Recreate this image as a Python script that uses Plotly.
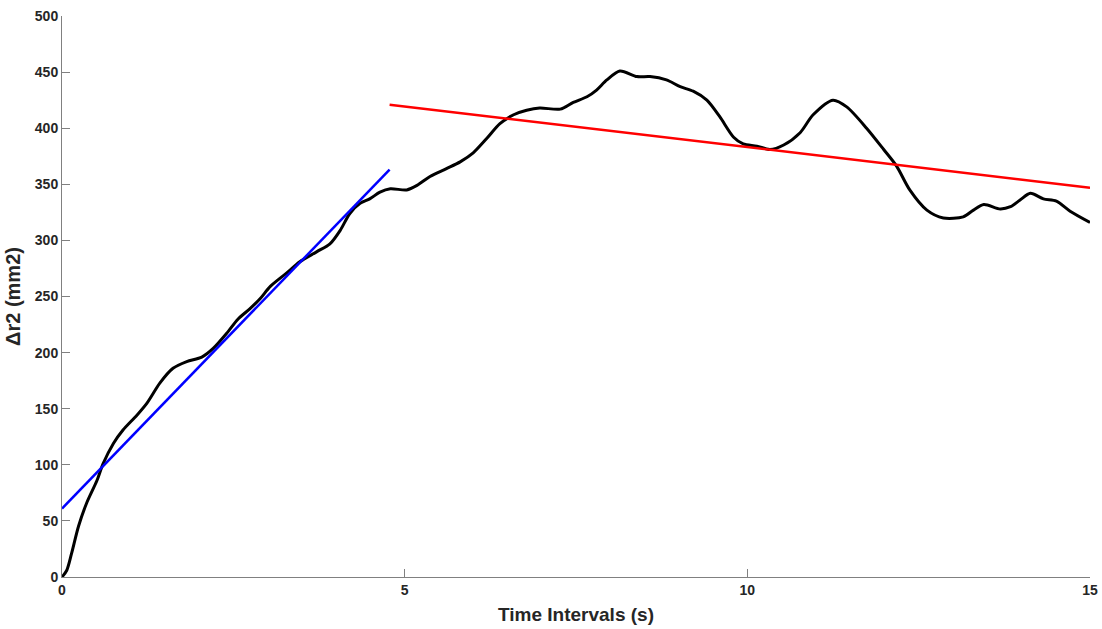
import plotly.graph_objects as go

# Measured curve (time in s, Δr2 in mm2)
t = [0.0, 0.07, 0.14, 0.24, 0.36, 0.51, 0.60, 0.75, 0.89, 1.09, 1.24, 1.43, 1.62, 1.82, 2.04,
     2.21, 2.40, 2.57, 2.74, 2.89, 3.04, 3.28, 3.47, 3.72, 3.91, 4.06, 4.20, 4.35, 4.49, 4.64,
     4.79, 5.03, 5.18, 5.37, 5.61, 5.81, 6.00, 6.20, 6.39, 6.59, 6.78, 6.97, 7.27, 7.46, 7.66,
     7.80, 7.95, 8.14, 8.39, 8.58, 8.82, 9.02, 9.21, 9.41, 9.60, 9.80, 9.94, 10.14, 10.33,
     10.53, 10.77, 10.96, 11.25, 11.45, 11.74, 11.99, 12.18, 12.37, 12.62, 12.86, 13.15,
     13.30, 13.45, 13.69, 13.84, 13.98, 14.13, 14.32, 14.51, 14.71, 15.0]
r2 = [0, 6, 21, 45, 66, 86, 101, 119, 131, 144, 155, 173, 186, 192, 196,
      204, 217, 230, 239, 248, 259, 271, 281, 290, 297, 309, 324, 333, 337, 343,
      346, 345, 349, 357, 364, 370, 378, 391, 404, 412, 416, 418, 417, 423, 428,
      434, 443, 451, 446, 446, 443, 437, 433, 425, 410, 392, 386, 384, 381,
      385, 396, 412, 425, 419, 400, 381, 366, 345, 327, 320, 321,
      327, 332, 328, 330, 336, 342, 337, 335, 326, 316]

# Linear fits
fit1_t = [0.0, 4.78]
fit1_y = [61, 363]
fit2_t = [4.78, 15.0]
fit2_y = [421, 347]

x_ticks = [0, 5, 10, 15]
y_ticks = [0, 50, 100, 150, 200, 250, 300, 350, 400, 450, 500]

fig = go.Figure()
fig.add_trace(go.Scatter(x=t, y=r2, mode="lines",
                         line=dict(color="black", width=3, shape="spline", smoothing=0.8),
                         showlegend=False))
fig.add_trace(go.Scatter(x=fit1_t, y=fit1_y, mode="lines",
                         line=dict(color="#0000ff", width=2.5), showlegend=False))
fig.add_trace(go.Scatter(x=fit2_t, y=fit2_y, mode="lines",
                         line=dict(color="#ff0000", width=2.5), showlegend=False))

font_family = "Liberation Sans, Arial, sans-serif"
fig.update_layout(
    width=1102, height=629,
    margin=dict(l=62, r=12, t=16, b=52),
    paper_bgcolor="white", plot_bgcolor="white",
    font=dict(family=font_family, color="#262626", size=14, weight="bold"),
    xaxis=dict(range=[0, 15], tickvals=x_ticks, ticks="inside", ticklen=8, tickcolor="#808080",
               showline=True, linecolor="#808080", linewidth=1, showgrid=False, zeroline=False,
               automargin=False,
               tickfont=dict(size=14, weight="bold", color="#262626"),
               title=dict(text="Time Intervals (s)", font=dict(size=19, weight="bold", color="#262626"),
                          standoff=10)),
    yaxis=dict(range=[0, 500], tickvals=y_ticks, ticks="inside", ticklen=8, tickcolor="#808080",
               showline=True, linecolor="#808080", linewidth=1, showgrid=False, zeroline=False,
               automargin=False,
               tickfont=dict(size=14, weight="bold", color="#262626"),
               title=dict(text="Δr2 (mm2)", font=dict(size=20, weight="bold", color="#262626"),
                          standoff=8)),
)
fig.write_html("out.html")
